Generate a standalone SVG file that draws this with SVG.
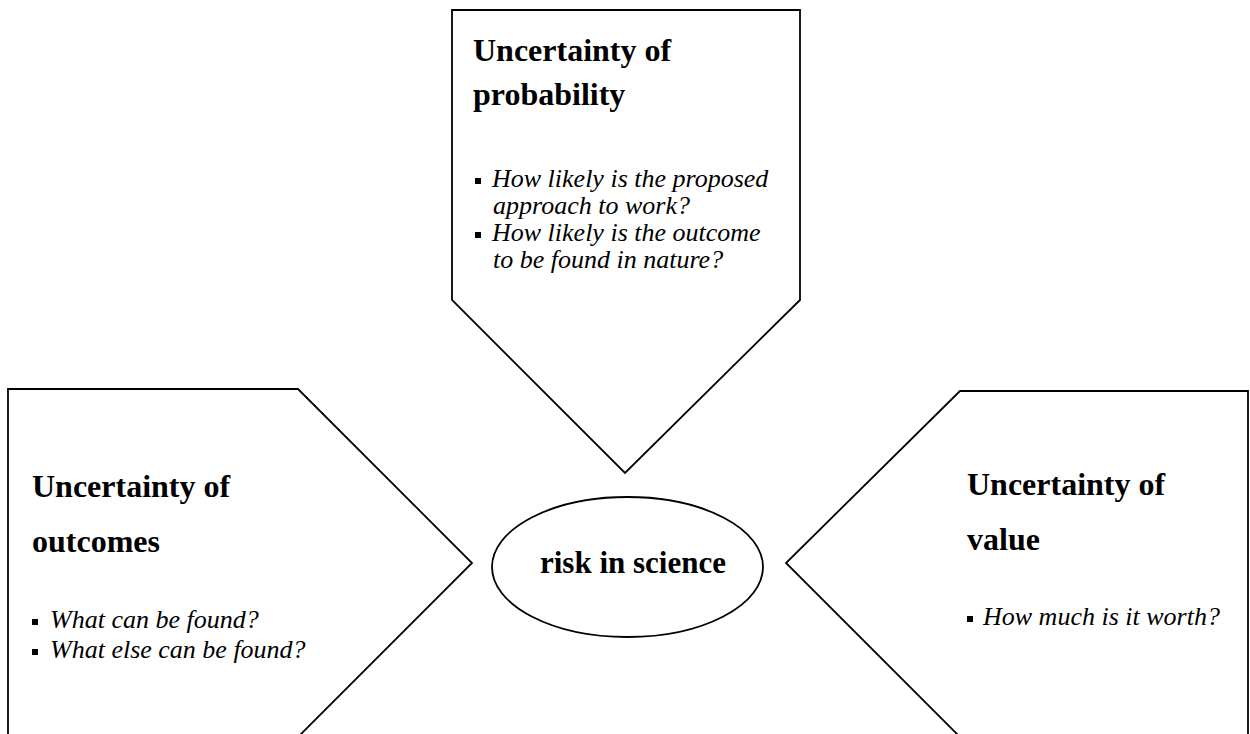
<svg xmlns="http://www.w3.org/2000/svg" width="1250" height="734" viewBox="0 0 1250 734">
<style>
.shape{fill:#fff;stroke:#000;stroke-width:1.8;stroke-linejoin:miter}
.head{font-family:"Liberation Serif","Times New Roman",serif;font-weight:bold;font-size:32px;fill:#000}
.item{font-family:"Liberation Serif","Times New Roman",serif;font-style:italic;font-size:26px;fill:#000}
.center{font-family:"Liberation Serif","Times New Roman",serif;font-weight:bold;font-size:31px;fill:#000}
.bul{fill:#000}
</style>
<rect width="1250" height="734" fill="#fff"/>
<g id="connectors"></g>
<g id="node-probability">
<polygon class="shape" points="452,10 800,10 800,300 625,473 452,300"/>
<text class="head" x="473" y="61">Uncertainty of</text>
<text class="head" x="473" y="105">probability</text>
<rect class="bul" x="475" y="178" width="6" height="6"/>
<text class="item" x="492" y="187">How likely is the proposed</text>
<text class="item" x="493" y="214">approach to work?</text>
<rect class="bul" x="475" y="232" width="6" height="6"/>
<text class="item" x="492" y="241">How likely is the outcome</text>
<text class="item" x="493" y="268">to be found in nature?</text>
</g>
<g id="node-outcomes">
<polygon class="shape" points="8,389 298,389 472,563 298,737 8,737"/>
<text class="head" x="32" y="497">Uncertainty of</text>
<text class="head" x="32" y="552">outcomes</text>
<rect class="bul" x="32" y="619" width="6" height="6"/>
<text class="item" x="50" y="628">What can be found?</text>
<rect class="bul" x="32" y="649" width="6" height="6"/>
<text class="item" x="50" y="658">What else can be found?</text>
</g>
<g id="node-value">
<polygon class="shape" points="1248,391 960,391 786,563 960,737 1248,737"/>
<text class="head" x="967" y="495">Uncertainty of</text>
<text class="head" x="967" y="550">value</text>
<rect class="bul" x="967" y="616" width="6" height="6"/>
<text class="item" x="983" y="625">How much is it worth?</text>
</g>
<g id="node-risk">
<ellipse class="shape" cx="627.5" cy="567" rx="135.5" ry="70"/>
<text class="center" x="540" y="573">risk in science</text>
</g>
</svg>
